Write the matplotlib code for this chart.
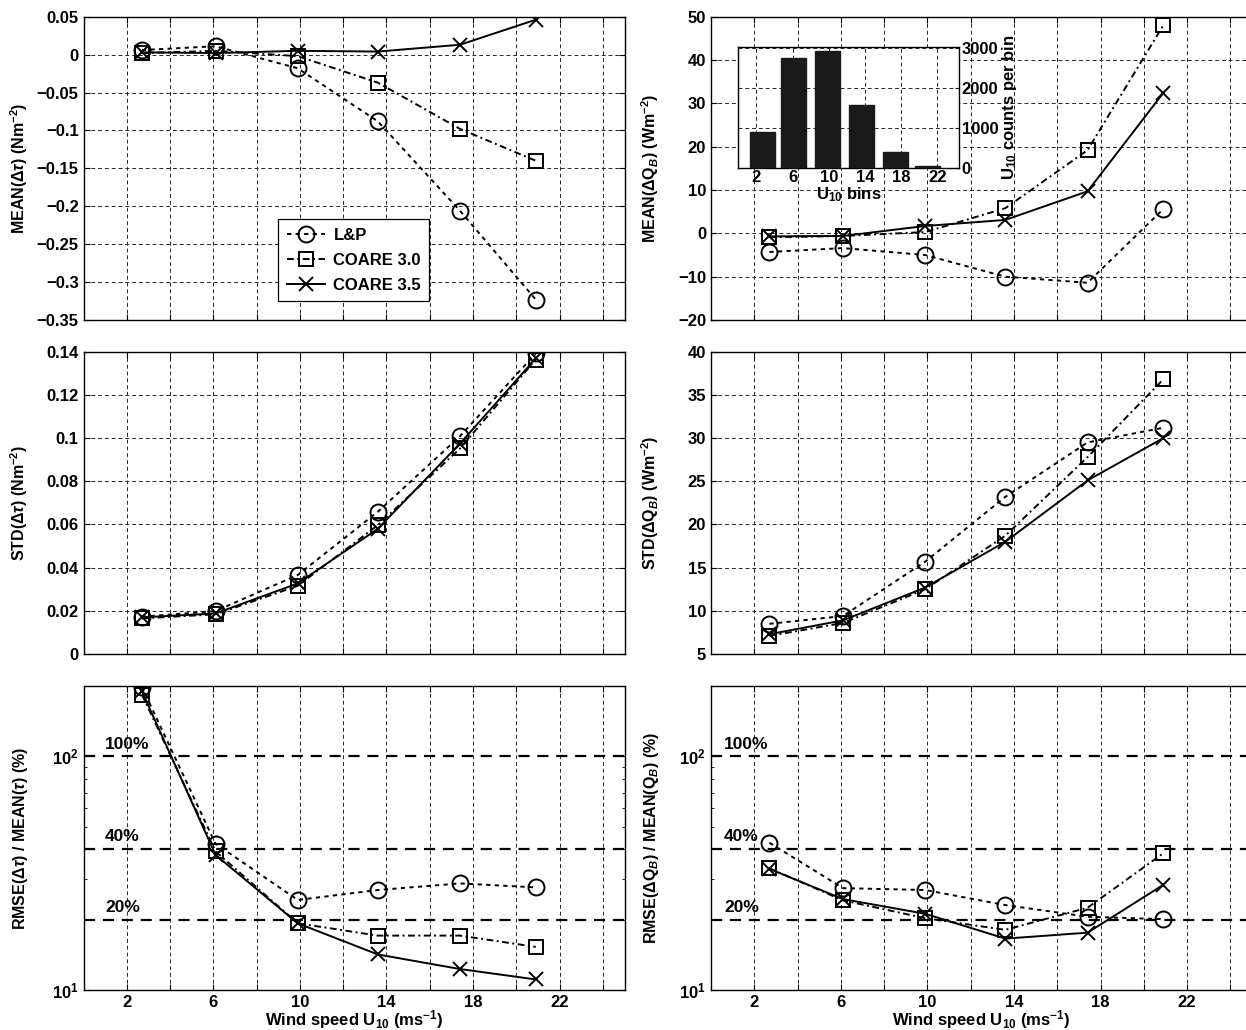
import numpy as np
import matplotlib.pyplot as plt
from matplotlib.ticker import LogLocator, NullFormatter, FixedLocator

plt.rcParams['font.family'] = ['Liberation Sans', 'DejaVu Sans']
plt.rcParams['font.weight'] = 'bold'
plt.rcParams['axes.labelweight'] = 'bold'
plt.rcParams['font.size'] = 11.5
plt.rcParams['mathtext.fontset'] = 'custom'
plt.rcParams['mathtext.rm'] = 'Liberation Sans:bold'
plt.rcParams['mathtext.bf'] = 'Liberation Sans:bold'
plt.rcParams['mathtext.it'] = 'Liberation Sans:italic'

# wind speed bin centres (m/s)
u10 = [2.7, 6.1, 9.9, 13.6, 17.4, 20.9]
u10_counts = [905, 2750, 2930, 1590, 385, 50]
bin_labels = ['2', '6', '10', '14', '18', '22']

models = ['L&P', 'COARE 3.0', 'COARE 3.5']

mean_tau = {
    'L&P':       [0.006, 0.011, -0.018, -0.088, -0.206, -0.323],
    'COARE 3.0': [0.002, 0.005, -0.002, -0.037, -0.098, -0.140],
    'COARE 3.5': [0.003, 0.002, 0.005, 0.004, 0.013, 0.046],
}
mean_qb = {
    'L&P':       [-4.3, -3.4, -5.0, -10.0, -11.4, 5.6],
    'COARE 3.0': [-0.9, -0.6, 0.3, 5.8, 19.2, 48.0],
    'COARE 3.5': [-0.7, -0.6, 1.7, 3.1, 9.7, 32.4],
}
std_tau = {
    'L&P':       [0.0173, 0.0199, 0.0366, 0.0659, 0.1009, 0.1392],
    'COARE 3.0': [0.0165, 0.0184, 0.0316, 0.0597, 0.0952, 0.1364],
    'COARE 3.5': [0.0170, 0.0188, 0.0327, 0.0580, 0.0975, 0.1369],
}
std_qb = {
    'L&P':       [8.5, 9.4, 15.7, 23.2, 29.5, 31.2],
    'COARE 3.0': [7.1, 8.6, 12.5, 18.7, 27.8, 36.8],
    'COARE 3.5': [7.3, 8.9, 12.7, 18.0, 25.1, 30.0],
}
rmse_tau = {
    'L&P':       [198, 42.3, 24.3, 26.8, 28.6, 27.5],
    'COARE 3.0': [184, 39.2, 19.3, 17.1, 17.1, 15.3],
    'COARE 3.5': [190, 37.9, 19.3, 14.2, 12.3, 11.1],
}
rmse_qb = {
    'L&P':       [42.7, 27.3, 26.8, 23.1, 20.6, 20.1],
    'COARE 3.0': [33.2, 24.2, 20.3, 18.1, 22.5, 38.5],
    'COARE 3.5': [33.0, 24.5, 21.2, 16.6, 17.6, 28.2],
}
ref_levels = [100, 40, 20]
ref_labels = ['100%', '40%', '20%']

styles = {
    'L&P':       dict(ls=(0, (2.2, 2.2)), marker='o', ms=11.5),
    'COARE 3.0': dict(ls=(0, (3.5, 1.8, 1.0, 1.8)), marker='s', ms=10),
    'COARE 3.5': dict(ls='-', marker='x', ms=10.5),
}

fig = plt.figure(figsize=(12.46, 10.30), dpi=100)

W = 541 / 1246
cols = [83.5 / 1246, 711 / 1246]
rows = [(0.6893, 0.2945), (0.3650, 0.2935), (0.0388, 0.2951)]

grid_kw = dict(color='0.15', ls=(0, (4, 3)), lw=0.7)


def bold_ticks(ax):
    for t in ax.get_xticklabels() + ax.get_yticklabels():
        t.set_fontweight('bold')


def style_axis(ax, show_xlabels):
    ax.set_xlim(0, 25)
    ax.set_xticks(np.arange(2, 25, 2))
    if show_xlabels:
        ax.set_xticklabels([str(v) if v % 4 == 2 else '' for v in range(2, 25, 2)])
        ax.set_xlabel('Wind speed U$_{10}$ (ms$^{-1}$)', labelpad=-1, fontsize=12)
    else:
        ax.set_xticklabels([])
    ax.tick_params(direction='in', top=True, right=True, length=4, width=0.8,
                   labelsize=12)
    ax.tick_params(which='minor', direction='in', right=True, length=2.5)
    for s in ax.spines.values():
        s.set_linewidth(1.0)


def draw_series(ax, data):
    for m in models:
        st = styles[m]
        ax.plot(u10, data[m], color='k', lw=1.4, ls=st['ls'], marker=st['marker'],
                ms=st['ms'], mfc='none', mec='k', mew=1.4, label=m)


axes = {}
for r, (b, h) in enumerate(rows):
    for c, l in enumerate(cols):
        axes[(r, c)] = fig.add_axes([l, b, W, h])

# top-left: mean tau
ax = axes[(0, 0)]
draw_series(ax, mean_tau)
ax.set_ylim(-0.35, 0.05)
ax.set_yticks(np.arange(-0.35, 0.051, 0.05))
ax.set_yticklabels(['\u22120.35', '\u22120.3', '\u22120.25', '\u22120.2', '\u22120.15',
                    '\u22120.1', '\u22120.05', '0', '0.05'])
ax.grid(True, **grid_kw)
ax.set_ylabel(r'MEAN($\Delta\tau$) (Nm$^{-2}$)')
style_axis(ax, False)
leg = ax.legend(loc='lower left', bbox_to_anchor=(0.345, 0.035), fancybox=False,
                edgecolor='k', handlelength=2.3, handletextpad=0.5, borderpad=0.5,
                labelspacing=0.6, framealpha=1, prop={'weight': 'bold', 'size': 12})
leg.get_frame().set_linewidth(0.9)

# top-right: mean QB
ax = axes[(0, 1)]
draw_series(ax, mean_qb)
ax.set_ylim(-20, 50)
ax.set_yticks(np.arange(-20, 51, 10))
ax.set_yticklabels(['\u221220', '\u221210', '0', '10', '20', '30', '40', '50'])
ax.grid(True, **grid_kw)
ax.set_ylabel(r'MEAN($\Delta$Q$_B$) (Wm$^{-2}$)')
style_axis(ax, False)

# middle-left: std tau
ax = axes[(1, 0)]
draw_series(ax, std_tau)
ax.set_ylim(0, 0.14)
ax.set_yticks(np.arange(0, 0.141, 0.02))
ax.set_yticklabels(['0', '0.02', '0.04', '0.06', '0.08', '0.1', '0.12', '0.14'])
ax.grid(True, **grid_kw)
ax.set_ylabel(r'STD($\Delta\tau$) (Nm$^{-2}$)')
style_axis(ax, False)

# middle-right: std QB
ax = axes[(1, 1)]
draw_series(ax, std_qb)
ax.set_ylim(5, 40)
ax.set_yticks(np.arange(5, 41, 5))
ax.grid(True, **grid_kw)
ax.set_ylabel(r'STD($\Delta$Q$_B$) (Wm$^{-2}$)')
style_axis(ax, False)

# bottom: relative rmse (log)
for c, data, lab, tx in [(0, rmse_tau, r'RMSE($\Delta\tau$) / MEAN($\tau$) (%)', 1.0),
                         (1, rmse_qb, r'RMSE($\Delta$Q$_B$) / MEAN(Q$_B$) (%)', 0.6)]:
    ax = axes[(2, c)]
    ax.set_yscale('log')
    ax.set_ylim(10, 200)
    ax.xaxis.grid(True, **grid_kw)
    for lev, txt in zip(ref_levels, ref_labels):
        ax.axhline(lev, color='k', ls=(0, (5, 3.5)), lw=1.6)
        ax.text(tx, lev * 1.13, txt, ha='left', va='center', fontsize=12.5,
                fontweight='bold')
    draw_series(ax, data)
    ax.yaxis.set_major_locator(FixedLocator([10, 100]))
    ax.yaxis.set_minor_locator(LogLocator(base=10, subs=np.arange(2, 10)))
    ax.yaxis.set_minor_formatter(NullFormatter())
    ax.set_ylabel(lab)
    style_axis(ax, True)

for (r, c), ax in axes.items():
    ax.yaxis.set_label_coords(-0.098 if c == 0 else -0.093, 0.5)
    bold_ticks(ax)

# inset histogram of counts per bin
ins = fig.add_axes([0.5925, 0.8372, 0.1771, 0.1169])
ins.bar(u10, u10_counts, width=2.8, color='0.1', edgecolor='0.1', zorder=3)
ins.set_xlim(0, 24.4)
ins.set_ylim(0, 3030)
ins.set_xticks([2, 6, 10, 14, 18, 22])
ins.set_xticklabels(bin_labels)
ins.set_yticks([0, 1000, 2000, 3000])
ins.yaxis.tick_right()
ins.yaxis.set_label_position('right')
ins.grid(True, color='0.15', ls=(0, (4, 3)), lw=0.7, zorder=0)
ins.tick_params(direction='in', length=3, pad=2, labelsize=12)
ins.set_xlabel('U$_{10}$ bins', labelpad=0, fontsize=12)
ins.set_ylabel('U$_{10}$ counts per bin', labelpad=1, fontsize=12)
for s in ins.spines.values():
    s.set_linewidth(1.0)
bold_ticks(ins)

fig.savefig('out.png', dpi=100)
